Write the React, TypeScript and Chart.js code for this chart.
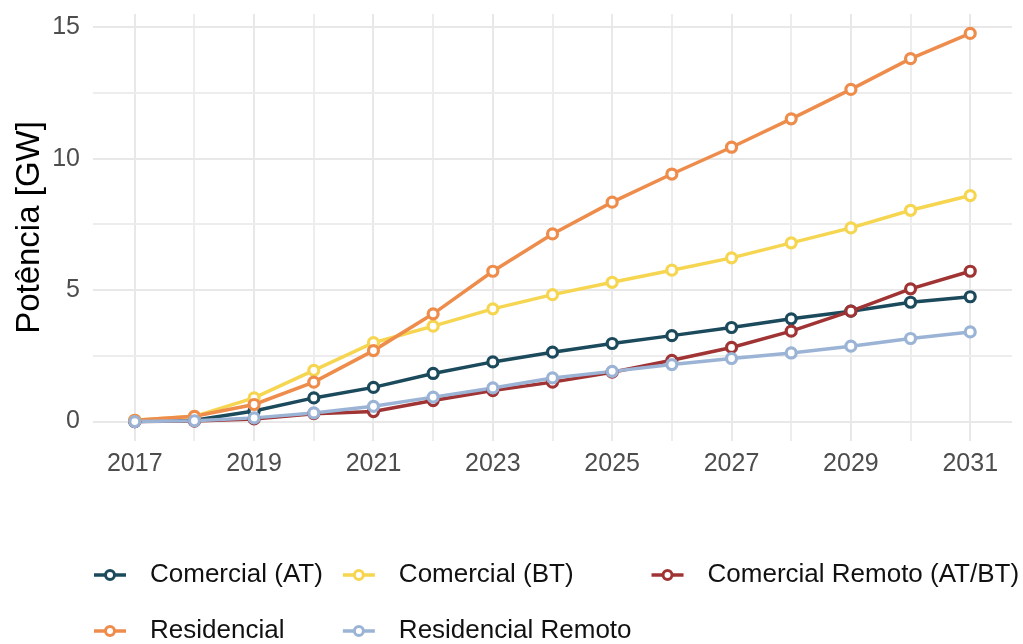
import React, { useEffect, useRef } from 'react';
import { Chart, registerables } from 'chart.js';

Chart.register(...registerables);

// ---- data ----
const years = [2017, 2018, 2019, 2020, 2021, 2022, 2023, 2024, 2025, 2026, 2027, 2028, 2029, 2030, 2031];
const yTickValues = [0, 2.5, 5, 7.5, 10, 12.5, 15];

const seriesNames = ['Comercial (AT)', 'Comercial (BT)', 'Comercial Remoto (AT/BT)', 'Residencial', 'Residencial Remoto'];
const seriesColors = ['#1b4a5c', '#f6d551', '#a03333', '#ee8c4c', '#9bb4d6'];

const comercialAT = [0.0, 0.05, 0.4, 0.9, 1.3, 1.83, 2.27, 2.64, 2.97, 3.27, 3.58, 3.91, 4.2, 4.54, 4.75];
const comercialBT = [0.05, 0.2, 0.9, 1.95, 3.0, 3.63, 4.29, 4.83, 5.3, 5.76, 6.23, 6.8, 7.37, 8.04, 8.6];
const comercialRemoto = [0.0, 0.02, 0.1, 0.3, 0.38, 0.8, 1.18, 1.5, 1.88, 2.33, 2.82, 3.44, 4.2, 5.05, 5.72];
const residencial = [0.05, 0.2, 0.65, 1.5, 2.7, 4.1, 5.72, 7.14, 8.35, 9.42, 10.44, 11.52, 12.64, 13.81, 14.77];
const residencialRemoto = [0.0, 0.03, 0.14, 0.33, 0.58, 0.93, 1.28, 1.66, 1.91, 2.17, 2.4, 2.61, 2.87, 3.16, 3.41];

const FONT = '"Liberation Sans", Arial, sans-serif';

const legendPlugin = {
  id: 'ggLegend',
  afterDraw(chart: any) {
    const ctx = chart.ctx as CanvasRenderingContext2D;
    ctx.save();
    ctx.font = `26px ${FONT}`;
    const ncol = 3;
    const rowY = [575, 631];
    const colWidths: number[] = [];
    for (let c = 0; c < ncol; c++) {
      let w = 0;
      seriesNames.forEach((n, i) => {
        if (i % ncol === c) w = Math.max(w, ctx.measureText(n).width);
      });
      colWidths.push(w);
    }
    const colX: number[] = [];
    let x = 110;
    for (let c = 0; c < ncol; c++) {
      colX.push(x);
      x = x + 40 + colWidths[c] + 36;
    }
    seriesNames.forEach((name, i) => {
      const cx = colX[i % ncol];
      const cy = rowY[Math.floor(i / ncol)];
      const col = seriesColors[i];
      ctx.strokeStyle = col;
      ctx.lineWidth = 3.5;
      ctx.beginPath();
      ctx.moveTo(cx - 16, cy);
      ctx.lineTo(cx + 16, cy);
      ctx.stroke();
      ctx.lineWidth = 3;
      ctx.beginPath();
      ctx.arc(cx, cy, 4.5, 0, Math.PI * 2);
      ctx.fillStyle = '#ffffff';
      ctx.fill();
      ctx.stroke();
      ctx.fillStyle = '#111111';
      ctx.textAlign = 'left';
      ctx.textBaseline = 'middle';
      ctx.fillText(name, cx + 40, cy);
    });
    ctx.restore();
  },
};

export default function App() {
  const ref = useRef<HTMLCanvasElement>(null);

  useEffect(() => {
    document.body.style.margin = '0';
    const series = [comercialAT, comercialBT, comercialRemoto, residencial, residencialRemoto];
    const lineSets = series.map((vals, i) => ({
      label: seriesNames[i],
      data: years.map((y, j) => ({ x: y, y: vals[j] })),
      borderColor: seriesColors[i],
      backgroundColor: seriesColors[i],
      borderWidth: 3.5,
      pointRadius: 0,
      pointHoverRadius: 0,
      fill: false,
      tension: 0,
      order: 20 - i,
    }));
    const pointSets = series.map((vals, i) => ({
      label: seriesNames[i] + ' ',
      data: years.map((y, j) => ({ x: y, y: vals[j] })),
      showLine: false,
      borderColor: seriesColors[i],
      backgroundColor: '#ffffff',
      pointRadius: 5,
      pointBorderWidth: 3.2,
      pointBorderColor: seriesColors[i],
      pointBackgroundColor: '#ffffff',
      order: 10 - i,
    }));

    const chart = new Chart(ref.current as HTMLCanvasElement, {
      type: 'line',
      data: { datasets: [...lineSets, ...pointSets] as any },
      options: {
        animation: false,
        responsive: false,
        events: [],
        layout: { padding: { top: 14, right: 11, left: 0, bottom: 0 } },
        plugins: { legend: { display: false }, tooltip: { enabled: false } },
        scales: {
          x: {
            type: 'linear',
            min: 2016.3,
            max: 2031.7,
            afterBuildTicks: (s: any) => {
              s.ticks = years.map((v) => ({ value: v }));
            },
            afterFit: (s: any) => {
              s.height = 203;
              s.paddingLeft = 0;
              s.paddingRight = 0;
            },
            border: { display: false },
            grid: {
              drawTicks: false,
              color: (c: any) => (c.tick && c.tick.value % 2 === 1 ? '#e8e8e8' : '#ededed'),
              lineWidth: 2,
            },
            ticks: {
              autoSkip: false,
              maxRotation: 0,
              padding: 8,
              color: '#4d4d4d',
              font: { family: FONT, size: 25 },
              callback: (v: any) => (Number(v) % 2 === 1 ? String(v) : ''),
            },
          },
          y: {
            type: 'linear',
            min: -0.74,
            max: 15.51,
            afterBuildTicks: (s: any) => {
              s.ticks = yTickValues.map((v) => ({ value: v }));
            },
            afterFit: (s: any) => {
              s.width = 93;
              s.paddingTop = 0;
              s.paddingBottom = 0;
            },
            border: { display: false },
            grid: {
              drawTicks: false,
              color: (c: any) => (c.tick && c.tick.value % 5 === 0 ? '#e8e8e8' : '#ededed'),
              lineWidth: 2,
            },
            ticks: {
              autoSkip: false,
              padding: 13,
              color: '#4d4d4d',
              font: { family: FONT, size: 25 },
              callback: (v: any) => (Number(v) % 5 === 0 ? String(v) : ''),
            },
            title: {
              display: true,
              text: 'Potência [GW]',
              color: '#000000',
              font: { family: FONT, size: 33 },
              padding: { top: 10, bottom: 0 },
            },
          },
        },
      },
      plugins: [legendPlugin],
    });
    return () => chart.destroy();
  }, []);

  return (
    <div style={{ width: 1023, height: 644, position: 'relative', overflow: 'hidden' }}>
      <canvas ref={ref} width={1023} height={644} style={{ display: 'block' }} />
    </div>
  );
}
